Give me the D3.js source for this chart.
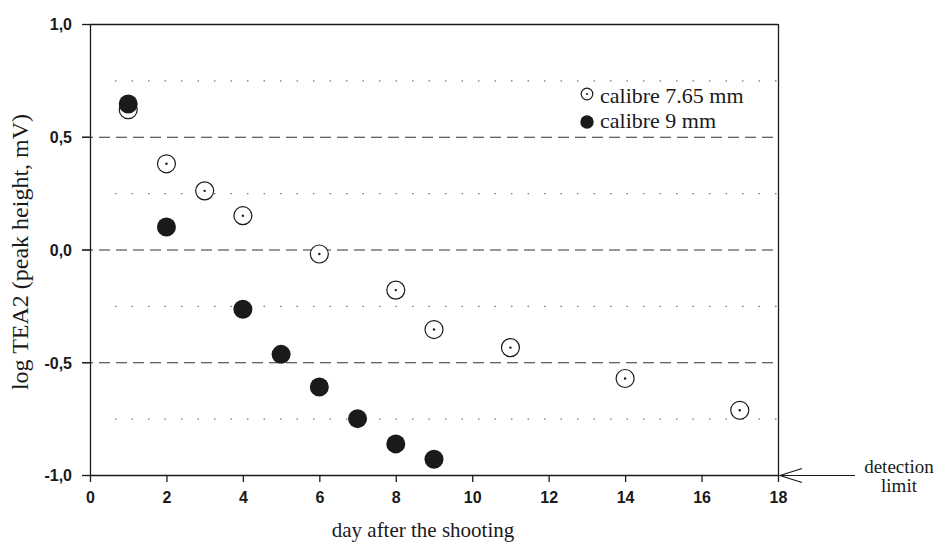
<!DOCTYPE html>
<html>
<head>
<meta charset="utf-8">
<script src="https://cdn.jsdelivr.net/npm/d3@7"></script>
<style>
  body { margin: 0; background: #fff; }
  svg { display: block; }
</style>
</head>
<body>
<div id="chart"></div>
<script>
// data
const days765 = [1, 2, 3, 4, 6, 8, 9, 11, 14, 17];
const tea765 = [0.62, 0.38, 0.26, 0.15, -0.02, -0.18, -0.355, -0.435, -0.572, -0.713];
const days9 = [1, 2, 4, 5, 6, 7, 8, 9];
const tea9 = [0.645, 0.10, -0.265, -0.465, -0.61, -0.75, -0.862, -0.93];
const seriesNames = ['calibre 7.65 mm', 'calibre 9 mm'];
const xTicks = [0, 2, 4, 6, 8, 10, 12, 14, 16, 18];
const yTicks = [-1, -0.5, 0, 0.5, 1];
const dashedLevels = [-0.5, 0, 0.5];
const dottedLevels = [-0.75, -0.25, 0.25, 0.75];

const style = {
  ink: '#1a1a1a',
  grid: '#333',
  dots: '#777',
  serif: '"Liberation Serif", "DejaVu Serif", serif',
  sans: '"Liberation Sans", Arial, sans-serif',
  r: 9,
};

const W = 937, H = 542;
const margin = { top: 24, right: 159, bottom: 67, left: 90 };
const width = W - margin.left - margin.right;   // 688
const height = H - margin.top - margin.bottom;  // 451

const locale = d3.formatLocale({ decimal: ',', thousands: '.', grouping: [3], currency: ['', ''], minus: '-' });
const fmt = locale.format('.1f');

const x = d3.scaleLinear().domain([0, 18]).range([0, width]);
const y = d3.scaleLinear().domain([-1, 1]).range([height, 0]);

const svg = d3.select('#chart').append('svg')
  .attr('width', W)
  .attr('height', H);

const g = svg.append('g')
  .attr('transform', `translate(${margin.left},${margin.top})`);

// dotted minor grid
g.selectAll('.dotted').data(dottedLevels).enter().append('line')
  .attr('x1', 25).attr('x2', width)
  .attr('y1', (d) => y(d) + 0.5).attr('y2', (d) => y(d) + 0.5)
  .attr('stroke', style.dots)
  .attr('stroke-width', 1.2)
  .attr('stroke-dasharray', '1.5,15');

// dashed grid
g.selectAll('.dashed').data(dashedLevels).enter().append('line')
  .attr('x1', -8).attr('x2', width)
  .attr('y1', (d) => y(d) + 0.5).attr('y2', (d) => y(d) + 0.5)
  .attr('stroke', style.grid)
  .attr('stroke-width', 1.2)
  .attr('stroke-dasharray', '11,6');

// frame top and right
g.append('line')
  .attr('x1', 0).attr('x2', width)
  .attr('y1', 0.5).attr('y2', 0.5)
  .attr('stroke', style.ink).attr('stroke-width', 1.3);
g.append('line')
  .attr('x1', width + 0.5).attr('x2', width + 0.5)
  .attr('y1', 0).attr('y2', height)
  .attr('stroke', style.ink).attr('stroke-width', 1.3);

// axes
const xAxis = d3.axisBottom(x)
  .tickValues(xTicks)
  .tickSize(7)
  .tickSizeOuter(0)
  .tickPadding(10)
  .tickFormat(d3.format('d'));

const yAxis = d3.axisLeft(y)
  .tickValues(yTicks)
  .tickSize(8)
  .tickSizeOuter(0)
  .tickPadding(10)
  .tickFormat(fmt);

const gx = g.append('g')
  .attr('transform', `translate(0,${height})`)
  .call(xAxis);
const gy = g.append('g').call(yAxis);

[gx, gy].forEach((ax) => {
  ax.select('.domain').attr('stroke', style.ink).attr('stroke-width', 1.3);
  ax.selectAll('line').attr('stroke', style.ink).attr('stroke-width', 1.3);
  ax.selectAll('text')
    .attr('fill', style.ink)
    .attr('font-family', style.sans)
    .attr('font-size', 16)
    .attr('font-weight', 'bold');
});
gy.selectAll('text').attr('dy', '0.36em');

// series 7.65 mm: open circle with a centre dot
const open = g.selectAll('.open').data(days765.map((d, i) => [d, tea765[i]])).enter()
  .append('g')
  .attr('transform', (d) => `translate(${x(d[0])},${y(d[1])})`);
open.append('circle')
  .attr('r', style.r)
  .attr('fill', '#fff')
  .attr('stroke', style.ink)
  .attr('stroke-width', 1.2);
open.append('circle')
  .attr('r', 1.2)
  .attr('fill', style.ink);

// series 9 mm: filled
g.selectAll('.filled').data(days9.map((d, i) => [d, tea9[i]])).enter()
  .append('circle')
  .attr('cx', (d) => x(d[0]))
  .attr('cy', (d) => y(d[1]))
  .attr('r', style.r + 0.5)
  .attr('fill', style.ink);

// legend
const lg = svg.append('g').attr('transform', 'translate(587,94)');
lg.append('circle').attr('r', 5.8).attr('fill', '#fff').attr('stroke', style.ink).attr('stroke-width', 1.2);
lg.append('circle').attr('r', 1).attr('fill', style.ink);
lg.append('circle').attr('cy', 28).attr('r', 6.7).attr('fill', style.ink);
lg.selectAll('text').data(seriesNames).enter().append('text')
  .attr('x', 13)
  .attr('y', (d, i) => 9 + i * 25)
  .attr('font-family', style.serif)
  .attr('font-size', 22)
  .attr('fill', style.ink)
  .text((d) => d);

// axis titles
svg.append('text')
  .attr('x', 423)
  .attr('y', 537)
  .attr('text-anchor', 'middle')
  .attr('font-family', style.serif)
  .attr('font-size', 21)
  .attr('fill', style.ink)
  .text('day after the shooting');

svg.append('text')
  .attr('transform', 'translate(28,252) rotate(-90)')
  .attr('text-anchor', 'middle')
  .attr('font-family', style.serif)
  .attr('font-size', 24)
  .attr('fill', style.ink)
  .text('log TEA2 (peak height, mV)');

// detection limit arrow
const ay = margin.top + y(-1) + 0.5;
const ax0 = margin.left + x(18);
svg.append('line')
  .attr('x1', ax0 + 2).attr('x2', 855)
  .attr('y1', ay).attr('y2', ay)
  .attr('stroke', style.ink).attr('stroke-width', 1.2);
svg.append('path')
  .attr('d', `M${ax0 + 24},${ay - 7} L${ax0 + 2},${ay} L${ax0 + 24},${ay + 7}`)
  .attr('fill', 'none')
  .attr('stroke', style.ink).attr('stroke-width', 1.2);
const dl = svg.append('text')
  .attr('text-anchor', 'middle')
  .attr('font-family', style.serif)
  .attr('font-size', 19)
  .attr('fill', style.ink);
dl.append('tspan').attr('x', 899).attr('y', 473).text('detection');
dl.append('tspan').attr('x', 899).attr('y', 492).text('limit');
</script>
</body>
</html>
